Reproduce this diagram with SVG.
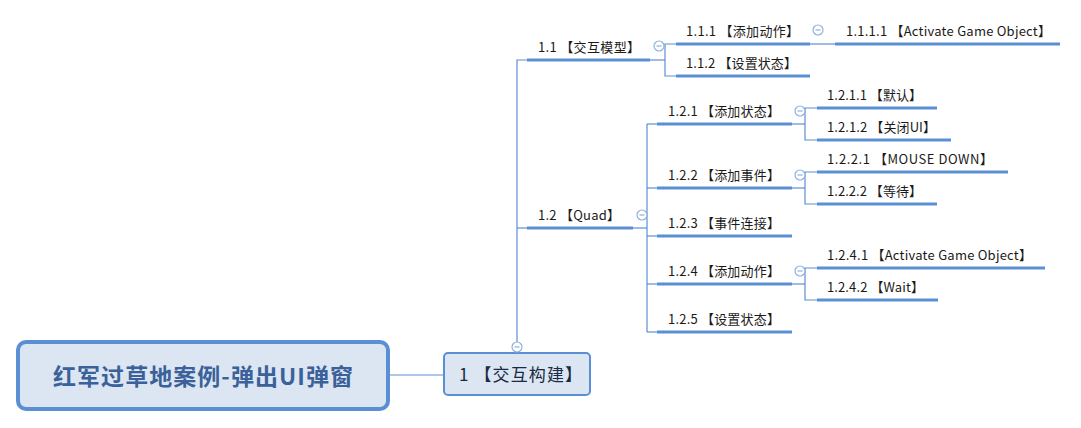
<svg xmlns="http://www.w3.org/2000/svg" width="1081" height="428" viewBox="0 0 1081 428">
<style>
.bg{fill:#ffffff}
.conn{stroke:#5B8FD4;stroke-width:1.2;fill:none}
.ul{stroke:#5B8FD4;stroke-width:3;fill:none}
.lbl{font-family:"Noto Sans CJK SC","Microsoft YaHei","Liberation Sans",sans-serif;font-size:13px;fill:#1a1a1a}
</style>
<defs>
<g id="minus"><circle r="5" cx="0" cy="0" fill="#ffffff" stroke="#8FB0DE" stroke-width="1.2"/><line x1="-2.5" y1="0" x2="2.5" y2="0" stroke="#8FB0DE" stroke-width="1.2"/></g>
</defs>
<rect class="bg" width="1081" height="428"/>
<g id="connectors">
<line class="conn" x1="389" y1="375" x2="444" y2="375"/>
<polyline class="conn" points="517,342 517,60 527,60"/>
<line class="conn" x1="517" y1="228" x2="527" y2="228"/>
<polyline class="conn" points="650,60 665,60"/>
<polyline class="conn" points="676,44 665,44 665,76 676,76"/>
<line class="conn" x1="810" y1="44" x2="835" y2="44"/>
<line class="conn" x1="633" y1="228" x2="647" y2="228"/>
<line class="conn" x1="647" y1="124" x2="647" y2="332"/>
<line class="conn" x1="647" y1="124" x2="657" y2="124"/>
<line class="conn" x1="647" y1="188" x2="657" y2="188"/>
<line class="conn" x1="647" y1="236" x2="657" y2="236"/>
<line class="conn" x1="647" y1="284" x2="657" y2="284"/>
<line class="conn" x1="647" y1="332" x2="657" y2="332"/>
<line class="conn" x1="792" y1="124" x2="805" y2="124"/>
<polyline class="conn" points="817,108 805,108 805,140 817,140"/>
<line class="conn" x1="792" y1="188" x2="805" y2="188"/>
<polyline class="conn" points="817,172 805,172 805,204 817,204"/>
<line class="conn" x1="792" y1="284" x2="805" y2="284"/>
<polyline class="conn" points="817,268 805,268 805,300 817,300"/>
</g>
<g id="root">
<rect x="18" y="342" width="370" height="67" rx="8" ry="8" fill="#DCE6F2" stroke="#5B8FD4" stroke-width="4"/>
<text x="203" y="385" text-anchor="middle" font-family="'Noto Sans CJK SC','Microsoft YaHei',sans-serif" font-size="23" font-weight="bold" fill="#3A6199" textLength="300" lengthAdjust="spacing">红军过草地案例-弹出UI弹窗</text>
</g>
<g id="n1">
<rect x="444" y="353" width="146" height="42" rx="4" ry="4" fill="#DCE6F2" stroke="#5B8FD4" stroke-width="2"/>
<text x="459" y="381" font-family="'Noto Sans CJK SC','Microsoft YaHei',sans-serif" font-size="17" fill="#1a2a44" textLength="123" lengthAdjust="spacing">1 【交互构建】</text>
<use href="#minus" x="517" y="347"/>
</g>
<g id="n1_1">
<line class="ul" x1="527" y1="60" x2="650" y2="60"/>
<text class="lbl" x="538" y="52" textLength="102" lengthAdjust="spacing">1.1 【交互模型】</text>
<use href="#minus" x="659" y="46"/>
</g>
<g id="n1_1_1">
<line class="ul" x1="676" y1="44" x2="810" y2="44"/>
<text class="lbl" x="686" y="36" textLength="113" lengthAdjust="spacing">1.1.1 【添加动作】</text>
<use href="#minus" x="818" y="30"/>
</g>
<g id="n1_1_1_1">
<line class="ul" x1="835" y1="44" x2="1060" y2="44"/>
<text class="lbl" x="846" y="36" textLength="205" lengthAdjust="spacing">1.1.1.1 【Activate Game Object】</text>
</g>
<g id="n1_1_2">
<line class="ul" x1="676" y1="76" x2="810" y2="76"/>
<text class="lbl" x="686" y="68" textLength="111" lengthAdjust="spacing">1.1.2 【设置状态】</text>
</g>
<g id="n1_2">
<line class="ul" x1="527" y1="228" x2="633" y2="228"/>
<text class="lbl" x="538" y="220" textLength="82" lengthAdjust="spacing">1.2 【Quad】</text>
<use href="#minus" x="642" y="215"/>
</g>
<g id="n1_2_1">
<line class="ul" x1="657" y1="124" x2="792" y2="124"/>
<text class="lbl" x="668" y="116" textLength="112" lengthAdjust="spacing">1.2.1 【添加状态】</text>
<use href="#minus" x="800" y="111"/>
</g>
<g id="n1_2_1_1">
<line class="ul" x1="817" y1="108" x2="937" y2="108"/>
<text class="lbl" x="827" y="100" textLength="95" lengthAdjust="spacing">1.2.1.1 【默认】</text>
</g>
<g id="n1_2_1_2">
<line class="ul" x1="817" y1="140" x2="951" y2="140"/>
<text class="lbl" x="827" y="132" textLength="109" lengthAdjust="spacing">1.2.1.2 【关闭UI】</text>
</g>
<g id="n1_2_2">
<line class="ul" x1="657" y1="188" x2="792" y2="188"/>
<text class="lbl" x="668" y="180" textLength="112" lengthAdjust="spacing">1.2.2 【添加事件】</text>
<use href="#minus" x="800" y="175"/>
</g>
<g id="n1_2_2_1">
<line class="ul" x1="817" y1="172" x2="1008" y2="172"/>
<text class="lbl" x="827" y="164" textLength="166" lengthAdjust="spacing">1.2.2.1 【MOUSE DOWN】</text>
</g>
<g id="n1_2_2_2">
<line class="ul" x1="817" y1="204" x2="937" y2="204"/>
<text class="lbl" x="827" y="196" textLength="95" lengthAdjust="spacing">1.2.2.2 【等待】</text>
</g>
<g id="n1_2_3">
<line class="ul" x1="657" y1="236" x2="792" y2="236"/>
<text class="lbl" x="668" y="228" textLength="112" lengthAdjust="spacing">1.2.3 【事件连接】</text>
</g>
<g id="n1_2_4">
<line class="ul" x1="657" y1="284" x2="792" y2="284"/>
<text class="lbl" x="668" y="276" textLength="112" lengthAdjust="spacing">1.2.4 【添加动作】</text>
<use href="#minus" x="800" y="271"/>
</g>
<g id="n1_2_4_1">
<line class="ul" x1="817" y1="268" x2="1045" y2="268"/>
<text class="lbl" x="827" y="260" textLength="205" lengthAdjust="spacing">1.2.4.1 【Activate Game Object】</text>
</g>
<g id="n1_2_4_2">
<line class="ul" x1="817" y1="300" x2="938" y2="300"/>
<text class="lbl" x="827" y="292" textLength="97" lengthAdjust="spacing">1.2.4.2 【Wait】</text>
</g>
<g id="n1_2_5">
<line class="ul" x1="657" y1="332" x2="792" y2="332"/>
<text class="lbl" x="668" y="324" textLength="112" lengthAdjust="spacing">1.2.5 【设置状态】</text>
</g>
</svg>
